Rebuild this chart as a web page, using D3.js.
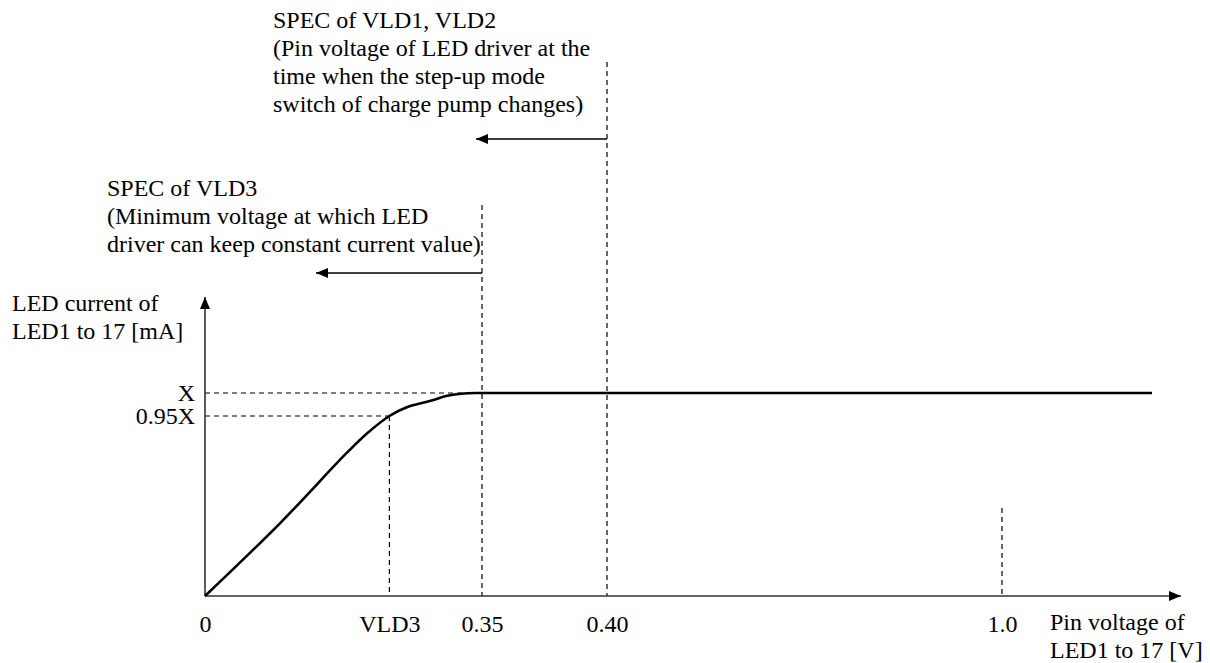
<!DOCTYPE html>
<html>
<head>
<meta charset="utf-8">
<script src="https://cdn.jsdelivr.net/npm/d3@7"></script>
<style>
  body { margin: 0; background: #fff; }
  text { font-family: "Liberation Serif", "DejaVu Serif", serif; font-size: 24px; fill: #000; }
</style>
</head>
<body>
<div id="chart"></div>
<script>
// pin voltage [V] / LED current (as fraction of X)
var curveVolt = [0, 0.095, 0.179, 0.205, 0.233, 0.255, 0.285, 0.306, 0.327, 0.347, 0.365, 1.2];
var curveCurr = [0, 0.385, 0.755, 0.859, 0.95, 0.969, 0.983, 0.994, 0.999, 1.0, 1.0, 1.0];

var xTickValues = [0, 0.233, 0.35, 0.40, 1.0];
var xTickLabels = ["0", "VLD3", "0.35", "0.40", "1.0"];
var yTickValues = [1.0, 0.95];
var yTickLabels = ["X", "0.95X"];

var specVld12 = ["SPEC of VLD1, VLD2", "(Pin voltage of LED driver at the", "time when the step-up mode", "switch of charge pump changes)"];
var specVld3 = ["SPEC of VLD3", "(Minimum voltage at which LED", "driver can keep constant current value)"];
var yTitle = ["LED current of", "LED1 to 17 [mA]"];
var xTitle = ["Pin voltage of", "LED1 to 17 [V]"];

var W = 1210, H = 663;
var x0 = 205, y0 = 596;

// the drawing is schematic, so the scales are piecewise
var x = d3.scaleLinear().domain([0, 0.35, 0.40, 1.0, 1.2]).range([x0, 482, 607, 1002, 1152]);
var y = d3.scaleLinear().domain([0, 0.95, 1.0]).range([y0, 416, 393]);

var svg = d3.select("#chart").append("svg").attr("width", W).attr("height", H);

var defs = svg.append("defs");
defs.append("marker").attr("id", "arrow")
    .attr("viewBox", "0 0 12 10").attr("refX", 12).attr("refY", 5)
    .attr("markerWidth", 12).attr("markerHeight", 10)
    .attr("markerUnits", "userSpaceOnUse").attr("orient", "auto")
    .append("path").attr("d", "M0,0 L12,5 L0,10 Z").attr("fill", "#000");

function dashed(x1, y1, x2, y2) {
    svg.append("line").attr("x1", x1).attr("y1", y1).attr("x2", x2).attr("y2", y2)
        .attr("stroke", "#000").attr("stroke-width", 1.2).attr("stroke-dasharray", "5,4");
}

// guide lines
dashed(x0, y(1.0), x(0.35) + 10, y(1.0));
dashed(x0, y(0.95), x(0.233), y(0.95));
dashed(x(0.233), y(0.95), x(0.233), y0);
dashed(x(0.35), 205, x(0.35), y0);
dashed(x(0.40), 62, x(0.40), y0);
dashed(x(1.0), 508, x(1.0), y0);

// axes
svg.append("line").attr("x1", x0).attr("y1", y0).attr("x2", 1181).attr("y2", y0)
    .attr("stroke", "#333").attr("stroke-width", 1.6).attr("marker-end", "url(#arrow)");
svg.append("line").attr("x1", x0).attr("y1", y0).attr("x2", x0).attr("y2", 297)
    .attr("stroke", "#333").attr("stroke-width", 1.6).attr("marker-end", "url(#arrow)");

var xAxis = d3.axisBottom(x).tickValues(xTickValues).tickSize(0).tickPadding(19)
    .tickFormat(function (d, i) { return xTickLabels[i]; });
var gx = svg.append("g").attr("transform", "translate(0," + y0 + ")").call(xAxis);
gx.select(".domain").remove();

var yAxis = d3.axisLeft(y).tickValues(yTickValues).tickSize(0).tickPadding(10)
    .tickFormat(function (d, i) { return yTickLabels[i]; });
var gy = svg.append("g").attr("transform", "translate(" + x0 + ",0)").call(yAxis);
gy.select(".domain").remove();
svg.selectAll(".tick text").attr("font-family", null).attr("font-size", null).style("font-size", "24px");

// curve
var pts = curveVolt.map(function (v, i) { return [v, curveCurr[i]]; });
svg.append("path").datum(pts)
    .attr("fill", "none").attr("stroke", "#000").attr("stroke-width", 2.6)
    .attr("d", d3.line().x(function (d) { return x(d[0]); }).y(function (d) { return y(d[1]); })
        .curve(d3.curveCatmullRom.alpha(0.5)));

// spec arrows
svg.append("line").attr("x1", x(0.40)).attr("y1", 139).attr("x2", 476).attr("y2", 139)
    .attr("stroke", "#000").attr("stroke-width", 1.3).attr("marker-end", "url(#arrow)");
svg.append("line").attr("x1", x(0.35)).attr("y1", 273).attr("x2", 316).attr("y2", 273)
    .attr("stroke", "#000").attr("stroke-width", 1.3).attr("marker-end", "url(#arrow)");

function block(lines, left, top) {
    var t = svg.append("text");
    lines.forEach(function (s, i) {
        t.append("tspan").attr("x", left).attr("y", top + i * 28).text(s);
    });
}
block(specVld12, 273, 28);
block(specVld3, 107, 196);
block(yTitle, 12, 311);
block(xTitle, 1050, 630);
</script>
</body>
</html>
